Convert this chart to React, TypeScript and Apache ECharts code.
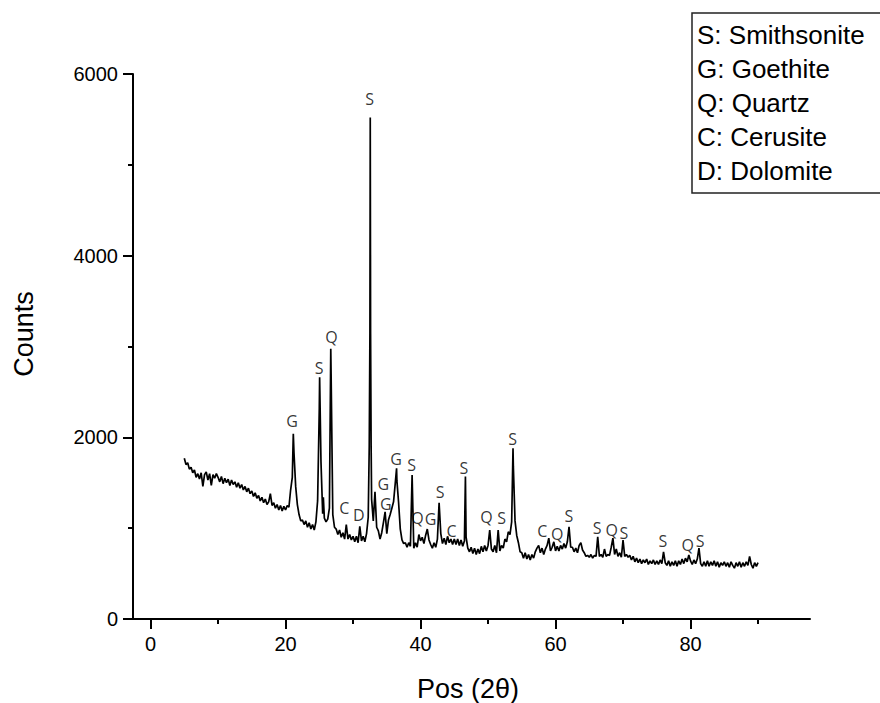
import React, { useEffect, useRef } from "react";
import * as echarts from "echarts";

// Scan: 2θ from 5° to 90° in 0.25° steps
const scanStart = 5;
const scanStep = 0.25;
const scanCounts = [
  // 5.00 – 9.75
  1770, 1700, 1720, 1650, 1670, 1610, 1640, 1560, 1600, 1540, 1610, 1460, 1590, 1620, 1530, 1600, 1470, 1590, 1550, 1600,
  // 10.00 – 14.75
  1560, 1510, 1570, 1490, 1550, 1500, 1540, 1470, 1530, 1480, 1510, 1450, 1500, 1440, 1480, 1420, 1460, 1400, 1440, 1380,
  // 15.00 – 19.75
  1410, 1350, 1390, 1330, 1360, 1300, 1340, 1280, 1320, 1260, 1290, 1380, 1250, 1280, 1220, 1260, 1200, 1250, 1190, 1240,
  // 20.00 – 24.75
  1200, 1250, 1230, 1420, 1560, 1830, 1460, 1260, 1150, 1080, 1090, 1040, 1080, 1010, 1060, 990, 1040, 980, 1070, 1300,
  // 25.00 – 29.75
  2320, 1730, 1160, 1110, 1070, 1100, 1220, 2700, 1150, 1010, 990, 930, 980, 900, 950, 880, 1040, 880, 930, 870,
  // 30.00 – 34.75
  910, 850, 910, 840, 1020, 860, 910, 850, 940, 1120, 3140, 1320, 1080, 1400, 1010, 970, 880, 950, 1060, 1180,
  // 35.00 – 39.75
  940, 1090, 1150, 1220, 1290, 1490, 1520, 1280, 990, 870, 830, 840, 790, 840, 800, 1585, 780, 840, 790, 930,
  // 40.00 – 44.75
  860, 900, 830, 920, 990, 870, 820, 780, 840, 790, 880, 1280, 940, 830, 890, 820, 910, 840, 880, 820,
  // 45.00 – 49.75
  880, 820, 880, 810, 870, 800, 860, 900, 780, 740, 790, 720, 780, 710, 770, 720, 800, 740, 810, 750,
  // 50.00 – 54.75
  810, 980, 770, 740, 810, 730, 980, 750, 810, 780, 880, 850, 960, 930, 1070, 1680, 1080, 920, 840, 740,
  // 55.00 – 59.75
  730, 670, 730, 660, 710, 650, 710, 670, 740, 780, 810, 730, 780, 710, 770, 810, 890, 750, 790, 850,
  // 60.00 – 64.75
  750, 800, 750, 810, 770, 830, 780, 850, 1015, 790, 790, 740, 780, 730, 810, 840, 760, 730, 690, 700,
  // 65.00 – 69.75
  680, 710, 670, 700, 690, 905, 690, 710, 680, 770, 690, 710, 700, 790, 890, 710, 770, 690, 730, 680,
  // 70.00 – 74.75
  870, 690, 710, 680, 700, 650, 690, 630, 670, 620, 660, 610, 650, 620, 660, 600, 640, 610, 650, 600,
  // 75.00 – 79.75
  640, 600, 650, 610, 740, 620, 590, 640, 580, 630, 590, 640, 580, 640, 600, 660, 610, 670, 630, 705,
  // 80.00 – 84.75
  640, 600, 650, 610, 660, 780, 610, 580, 630, 580, 640, 580, 630, 590, 640, 580, 630, 570, 620, 590,
  // 85.00 – 90.00
  630, 580, 620, 570, 630, 590, 560, 620, 580, 630, 570, 620, 580, 630, 590, 690, 600, 560, 620, 580, 620,
];

// Sharp reflection tops lying between scan steps
const reflectionTwoTheta = [21.15, 25.05, 25.6, 26.7, 32.4, 32.55, 32.6, 32.68, 36.45, 46.65, 53.7];
const reflectionCounts = [2040, 2660, 1340, 2975, 1900, 5520, 3140, 1900, 1660, 1570, 1880];

// Phase markers above peaks
const markerText = ["G", "S", "Q", "S", "C", "D", "G", "G", "G", "S", "Q", "G", "S", "C", "S", "Q", "S", "S", "C", "Q", "S", "S", "Q", "S", "S", "Q", "S"];
const markerTwoTheta = [20.98, 24.96, 26.79, 32.47, 28.69, 30.84, 34.48, 34.85, 36.37, 38.7, 39.55, 41.49, 42.9, 44.59, 46.41, 49.78, 52.0, 53.63, 58.02, 60.25, 61.98, 66.18, 68.31, 70.14, 75.92, 79.58, 81.41];
const markerCounts = [2180, 2758, 3110, 5725, 1222, 1140, 1485, 1270, 1758, 1690, 1109, 1096, 1393, 969, 1666, 1120, 1109, 1979, 972, 933, 1137, 999, 980, 950, 859, 815, 859];

const legendEntries = ["S: Smithsonite", "G: Goethite", "Q: Quartz", "C: Cerusite", "D: Dolomite"];

const xTitle = "Pos (2θ)";
const yTitle = "Counts";
const xMajorTicks = [0, 20, 40, 60, 80];
const xMinorTicks = [10, 30, 50, 70, 90];

export default function App() {
  const ref = useRef<HTMLDivElement>(null);

  useEffect(() => {
    if (!ref.current) return;
    const chart = echarts.init(ref.current, null, { renderer: "svg" });

    const points: number[][] = scanCounts.map((c, i) => [scanStart + i * scanStep, c]);
    reflectionTwoTheta.forEach((t, i) => points.push([t, reflectionCounts[i]]));
    points.sort((a, b) => a[0] - b[0]);

    const markers = markerText.map((t, i) => ({ name: t, value: [markerTwoTheta[i], markerCounts[i]] }));

    const axisFont = "'Liberation Sans', Arial, sans-serif";
    const legendTop = 13;
    const legendLine = 34;

    const option: any = {
      animation: false,
      backgroundColor: "#ffffff",
      grid: { left: 133, top: 74, width: 677, height: 545, containLabel: false },
      xAxis: [
        {
          type: "value",
          min: -2.6,
          max: 97.7,
          position: "bottom",
          axisLine: { show: true, onZero: false, lineStyle: { color: "#000", width: 2 } },
          axisTick: { show: true, inside: false, length: 10, customValues: xMajorTicks, lineStyle: { color: "#000", width: 2 } },
          axisLabel: { show: true, customValues: xMajorTicks, margin: 15, fontFamily: axisFont, fontSize: 20, color: "#000" },
          splitLine: { show: false },
        },
        {
          type: "value",
          min: -2.6,
          max: 97.7,
          position: "bottom",
          offset: 0,
          axisLine: { show: false },
          axisTick: { show: true, inside: false, length: 5, customValues: xMinorTicks, lineStyle: { color: "#000", width: 2 } },
          axisLabel: { show: false },
          splitLine: { show: false },
        },
      ],
      yAxis: {
        type: "value",
        min: 0,
        max: 6000,
        interval: 2000,
        axisLine: { show: true, onZero: false, lineStyle: { color: "#000", width: 2 } },
        axisTick: { show: true, length: 10, lineStyle: { color: "#000", width: 2 } },
        minorTick: { show: true, splitNumber: 2, length: 5, lineStyle: { color: "#000", width: 2 } },
        axisLabel: { margin: 15, fontFamily: axisFont, fontSize: 20, color: "#000", formatter: (v: number) => String(v) },
        splitLine: { show: false },
        minorSplitLine: { show: false },
      },
      series: [
        {
          type: "line",
          xAxisIndex: 0,
          data: points,
          showSymbol: false,
          symbol: "none",
          lineStyle: { color: "#000", width: 1.7 },
          silent: true,
        },
        {
          type: "scatter",
          xAxisIndex: 0,
          data: markers,
          symbolSize: 1,
          itemStyle: { color: "transparent" },
          silent: true,
          label: {
            show: true,
            position: "inside",
            formatter: "{b}",
            fontFamily: "'Open Sans', 'Noto Sans', sans-serif",
            fontSize: 16,
            lineHeight: 15,
            color: "#000",
          },
        },
      ],
      graphic: [
        {
          type: "text",
          x: 24,
          y: 334,
          rotation: Math.PI / 2,
          style: { text: yTitle, fontFamily: axisFont, fontSize: 27, fill: "#000", align: "center", verticalAlign: "middle" },
        },
        {
          type: "text",
          x: 468,
          y: 689,
          style: { text: xTitle, fontFamily: axisFont, fontSize: 27, fill: "#000", align: "center", verticalAlign: "middle" },
        },
        {
          type: "rect",
          shape: { x: 692, y: legendTop, width: 200, height: 180 },
          style: { fill: "#fff", stroke: "#222", lineWidth: 1.5 },
          z: 10,
        },
        ...legendEntries.map((t, i) => ({
          type: "text",
          x: 697,
          y: legendTop + 22 + i * legendLine,
          style: { text: t, fontFamily: axisFont, fontSize: 26, fill: "#000", verticalAlign: "middle", align: "left" },
          z: 11,
        })),
      ],
    };

    chart.setOption(option);
    return () => chart.dispose();
  }, []);

  return (
    <div
      ref={ref}
      style={{ position: "absolute", left: 0, top: 0, width: 880, height: 703, background: "#fff" }}
    />
  );
}
